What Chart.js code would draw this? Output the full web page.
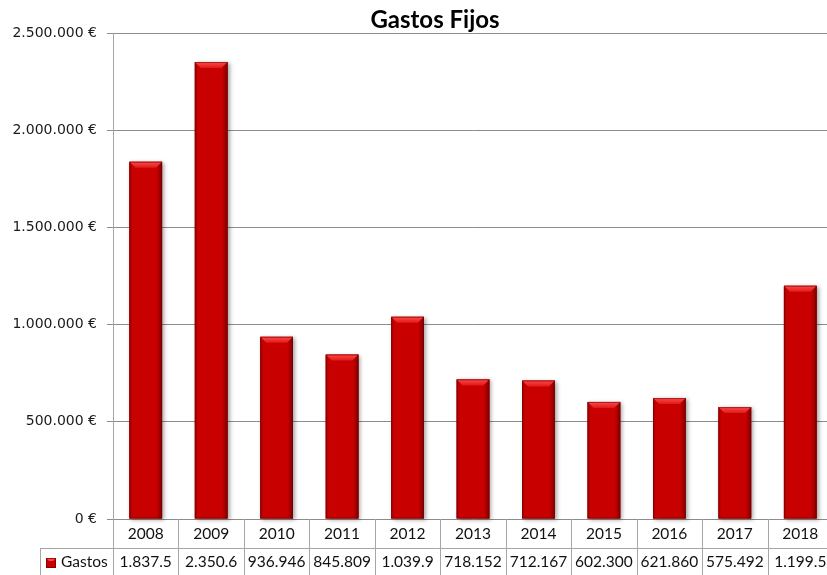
<!DOCTYPE html>
<html lang="es">
<head>
<meta charset="utf-8">
<title>Gastos Fijos</title>
<script src="https://cdn.jsdelivr.net/npm/chart.js@4.4.0/dist/chart.umd.min.js"></script>
<style>
  html, body { margin: 0; padding: 0; background: #fff; overflow: hidden; }
  #wrap { width: 833px; height: 575px; }
</style>
</head>
<body>
<div id="wrap"><canvas id="gastosChart" width="833" height="575"></canvas></div>
<script>
// Fixed costs per year
const chartTitle = 'Gastos Fijos';
const seriesName = 'Gastos';
const years = ['2008', '2009', '2010', '2011', '2012', '2013', '2014', '2015', '2016', '2017', '2018'];
const gastos = [1837540, 2350630, 936946, 845809, 1039910, 718152, 712167, 602300, 621860, 575492, 1199520];
const yMax = 2500000;
const yStep = 500000;

const barRed = '#c90000';
const tableLine = '#a6a6a6';
const textColor = '#111';

// 1234567 -> "1.234.567"
function formatMiles(n) {
  return String(Math.round(n)).replace(/\B(?=(\d{3})+(?!\d))/g, '.');
}

// Excel-style bar look: soft shadow, darker edges and a beveled top
const bevelBars = {
  id: 'bevelBars',
  beforeDatasetsDraw(chart) {
    const ctx = chart.ctx;
    chart.getDatasetMeta(0).data.forEach(bar => {
      const left = bar.x - bar.width / 2;
      ctx.save();
      ctx.shadowColor = 'rgba(0,0,0,0.35)';
      ctx.shadowBlur = 4;
      ctx.shadowOffsetX = 2;
      ctx.shadowOffsetY = 1;
      ctx.fillStyle = barRed;
      ctx.fillRect(left, bar.y, bar.width, bar.base - bar.y);
      ctx.restore();
    });
  },
  afterDatasetsDraw(chart) {
    const ctx = chart.ctx;
    chart.getDatasetMeta(0).data.forEach(bar => {
      const left = bar.x - bar.width / 2;
      const right = left + bar.width;
      const top = bar.y;
      const bottom = bar.base;
      const b = 6;
      ctx.save();
      const edge = ctx.createLinearGradient(left, 0, right, 0);
      edge.addColorStop(0, 'rgba(90,0,0,0.35)');
      edge.addColorStop(0.1, 'rgba(90,0,0,0)');
      edge.addColorStop(0.82, 'rgba(90,0,0,0)');
      edge.addColorStop(1, 'rgba(60,0,0,0.55)');
      ctx.fillStyle = edge;
      ctx.fillRect(left, top, bar.width, bottom - top);

      const cap = ctx.createLinearGradient(0, top, 0, top + b);
      cap.addColorStop(0, '#ff4a4a');
      cap.addColorStop(1, '#e01818');
      ctx.fillStyle = cap;
      ctx.beginPath();
      ctx.moveTo(left, top);
      ctx.lineTo(right, top);
      ctx.lineTo(right - b, top + b);
      ctx.lineTo(left + b, top + b);
      ctx.closePath();
      ctx.fill();

      ctx.strokeStyle = 'rgba(110,0,0,0.6)';
      ctx.lineWidth = 1;
      ctx.strokeRect(left + 0.5, top + 0.5, bar.width - 1, bottom - top - 1);
      ctx.restore();
    });
  }
};

// Title and data table under the plot
const dataTable = {
  id: 'dataTable',
  afterDraw(chart) {
    const ctx = chart.ctx;
    const area = chart.chartArea;
    const x = chart.scales.x;
    const cat = x.getPixelForValue(1) - x.getPixelForValue(0);
    const row1Top = area.bottom;
    const row2Top = area.bottom + 29;
    const row2Bottom = area.bottom + 56;
    const keyLeft = 40;

    ctx.save();
    ctx.fillStyle = '#000';
    ctx.font = 'bold 24px Lato';
    ctx.textAlign = 'center';
    ctx.textBaseline = 'middle';
    ctx.fillText(chartTitle, 435, 20);

    ctx.strokeStyle = tableLine;
    ctx.lineWidth = 1;
    ctx.beginPath();
    ctx.moveTo(keyLeft, row2Top + 0.5);
    ctx.lineTo(area.right, row2Top + 0.5);
    ctx.moveTo(keyLeft + 0.5, row2Top);
    ctx.lineTo(keyLeft + 0.5, row2Bottom);
    for (let i = 0; i <= years.length; i++) {
      const xb = Math.round(area.left + i * cat) + 0.5;
      ctx.moveTo(xb, row1Top);
      ctx.lineTo(xb, row2Bottom);
    }
    ctx.stroke();

    ctx.font = '15.5px Lato';
    ctx.fillStyle = textColor;
    years.forEach((yr, i) => {
      const cx = x.getPixelForValue(i);
      ctx.fillText(yr, cx, row1Top + 15);
      // values too wide for the cell get cut, like the spreadsheet does
      let txt = formatMiles(gastos[i]);
      while (ctx.measureText(txt).width > cat - 5) txt = txt.slice(0, -1);
      ctx.fillText(txt, cx, row2Top + 14);
    });

    // legend key
    const kx = 46, ky = row2Top + 10;
    ctx.fillStyle = barRed;
    ctx.fillRect(kx, ky, 10, 10);
    ctx.fillStyle = '#ff4040';
    ctx.beginPath();
    ctx.moveTo(kx, ky);
    ctx.lineTo(kx + 10, ky);
    ctx.lineTo(kx + 7, ky + 3);
    ctx.lineTo(kx + 3, ky + 3);
    ctx.closePath();
    ctx.fill();
    ctx.strokeStyle = 'rgba(110,0,0,0.7)';
    ctx.strokeRect(kx + 0.5, ky + 0.5, 9, 9);

    ctx.fillStyle = textColor;
    ctx.textAlign = 'left';
    ctx.fillText(seriesName, 61, row2Top + 14);
    ctx.restore();
  }
};

Chart.defaults.font.family = 'Lato, sans-serif';

new Chart(document.getElementById('gastosChart'), {
  type: 'bar',
  data: {
    labels: years,
    datasets: [{
      label: seriesName,
      data: gastos,
      backgroundColor: barRed,
      borderWidth: 0,
      barPercentage: 0.5,
      categoryPercentage: 1
    }]
  },
  options: {
    responsive: false,
    animation: false,
    layout: { padding: { top: 33, bottom: 56, left: 0, right: 0 } },
    plugins: {
      legend: { display: false },
      title: { display: false },
      tooltip: { enabled: false }
    },
    scales: {
      x: { display: false },
      y: {
        min: 0,
        max: yMax,
        ticks: {
          stepSize: yStep,
          padding: 10,
          color: '#1a1a1a',
          font: { family: 'DejaVu Sans', size: 14 },
          callback: v => formatMiles(v) + ' €'
        },
        grid: { color: '#8c8c8c', tickLength: 6 },
        border: { color: tableLine },
        afterFit: scale => { scale.width = 113; }
      }
    }
  },
  plugins: [bevelBars, dataTable]
});
</script>
</body>
</html>
